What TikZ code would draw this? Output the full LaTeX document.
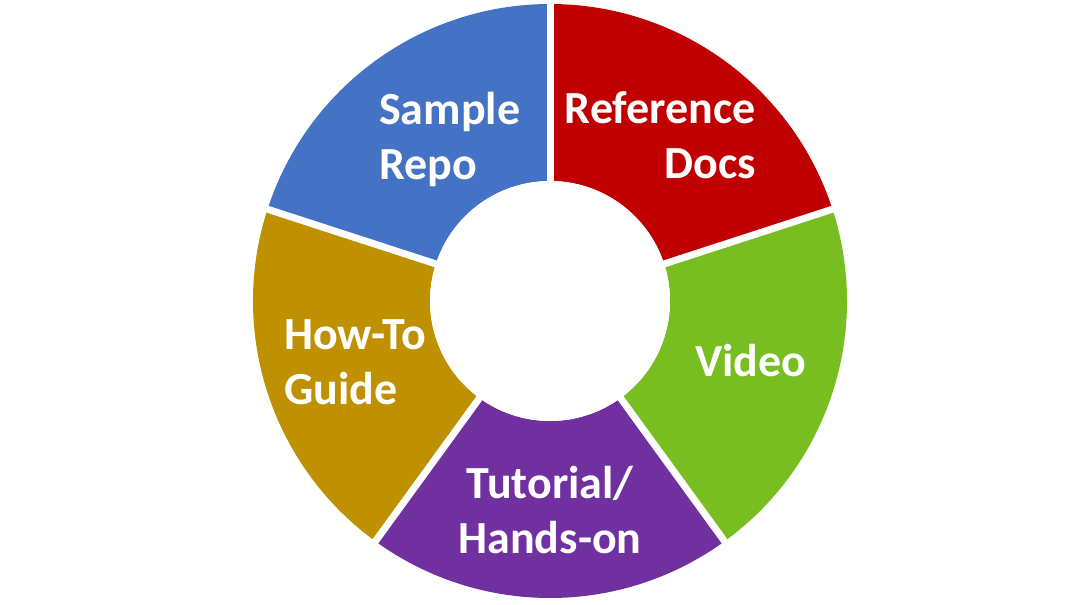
\documentclass[tikz,border=0pt]{standalone}
\usepackage{fontspec}
\setmainfont{Carlito}
\definecolor{segblue}{HTML}{4472C4}
\definecolor{segred}{HTML}{C00000}
\definecolor{seggreen}{HTML}{78BE21}
\definecolor{segpurple}{HTML}{7030A0}
\definecolor{seggold}{HTML}{BF9000}
\tikzset{
  lbl/.style={text=white, font=\bfseries\fontsize{46}{55}\selectfont, inner sep=0pt},
  gap/.style={white, line width=7pt}
}
\newcommand{\seg}[3]{%
  \fill[#3] ($(c)+(#1:297pt)$) arc[start angle=#1, end angle=#2, radius=297pt]
    -- ($(c)+(#2:120pt)$) arc[start angle=#2, end angle=#1, radius=120pt] -- cycle;}
\usetikzlibrary{calc}
\begin{document}
\begin{tikzpicture}[x=1pt,y=-1pt]
\useasboundingbox[fill=white] (0,0) rectangle (1088,605);
\coordinate (c) at (550,301);
\seg{18}{90}{segred}
\seg{-54}{18}{seggreen}
\seg{-126}{-54}{segpurple}
\seg{-198}{-126}{seggold}
\seg{90}{162}{segblue}
\foreach \a in {90,18,-54,-126,162}
  \draw[gap] (c) -- ++(\a:305pt);
\fill[white] (c) circle[radius=120pt];
\node[lbl, anchor=west, align=left] (sample) at (379,139) {Sample\\Repo};
\node[lbl, anchor=east, align=right] (ref) at (756,135) {Reference\\Docs};
\node[lbl, anchor=center] (video) at (751,361) {Video};
\node[lbl, anchor=center, align=center] (tut) at (550,510) {Tutorial/\\Hands-on};
\node[lbl, anchor=west, align=left] (howto) at (284,362) {How-To\\Guide};
\end{tikzpicture}
\end{document}
